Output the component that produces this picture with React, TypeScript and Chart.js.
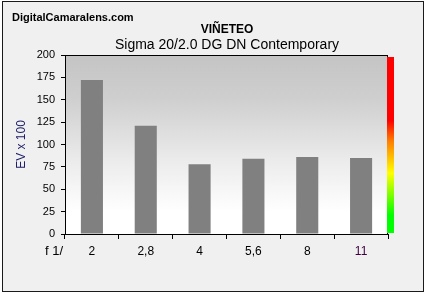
import React, { useEffect, useRef } from "react";
import { Chart, registerables } from "chart.js";

Chart.register(...registerables);

const categories = ["2", "2,8", "4", "5,6", "8", "11"];
const vignetting = [172, 121, 78, 84, 86, 85];
const yTicks = [0, 25, 50, 75, 100, 125, 150, 175, 200];
const siteText = "DigitalCamaralens.com";
const titleText = "VIÑETEO";
const subtitleText = "Sigma 20/2.0 DG DN Contemporary";
const xAxisPrefix = "f 1/";
const yAxisTitle = "EV x 100";

const FONT = "'Liberation Sans', Arial, sans-serif";

export default function App() {
  const ref = useRef<HTMLCanvasElement | null>(null);

  useEffect(() => {
    document.body.style.margin = "0";
    const canvas = ref.current;
    if (!canvas) return;

    const decor = {
      id: "decor",
      beforeDraw(chart: any) {
        const { ctx, chartArea: a } = chart;
        ctx.save();
        ctx.fillStyle = "#ffffff";
        ctx.fillRect(0, 0, chart.width, chart.height);
        ctx.fillStyle = "#f0f0f0";
        ctx.fillRect(2, 2, 421, 289);
        ctx.strokeStyle = "#1a1a1a";
        ctx.lineWidth = 1;
        ctx.strokeRect(2.5, 1.5, 421, 290);
        const g = ctx.createLinearGradient(0, a.top, 0, a.bottom);
        g.addColorStop(0, "#c4c4c4");
        g.addColorStop(0.25, "#cfcfcf");
        g.addColorStop(0.6, "#ececec");
        g.addColorStop(0.88, "#ffffff");
        g.addColorStop(1, "#ffffff");
        ctx.fillStyle = g;
        ctx.fillRect(a.left, a.top, a.right - a.left, a.bottom - a.top);
        ctx.restore();
      },
      afterDraw(chart: any) {
        const { ctx, chartArea: a } = chart;
        ctx.save();
        ctx.strokeStyle = "#000000";
        ctx.lineWidth = 1;
        ctx.beginPath();
        ctx.moveTo(a.left, a.top + 0.5);
        ctx.lineTo(a.right, a.top + 0.5);
        ctx.moveTo(a.right - 0.5, a.top);
        ctx.lineTo(a.right - 0.5, a.bottom);
        ctx.stroke();
        // colour scale bar
        const top = a.top + 2;
        const bottom = a.bottom - 1;
        const cg = ctx.createLinearGradient(0, top, 0, bottom);
        cg.addColorStop(0, "#ff0000");
        cg.addColorStop(0.36, "#ff0000");
        cg.addColorStop(0.48, "#ff8000");
        cg.addColorStop(0.66, "#ffff00");
        cg.addColorStop(0.9, "#00ff00");
        cg.addColorStop(1, "#00ff00");
        ctx.fillStyle = cg;
        ctx.fillRect(a.right - 1, top, 7, bottom - top);
        // texts
        ctx.fillStyle = "#000000";
        ctx.textBaseline = "alphabetic";
        ctx.textAlign = "left";
        ctx.font = `bold 11px ${FONT}`;
        ctx.fillText(siteText, 12, 21);
        ctx.textAlign = "center";
        ctx.font = `bold 12px ${FONT}`;
        ctx.fillText(titleText, 227, 33);
        ctx.font = `14px ${FONT}`;
        ctx.fillText(subtitleText, 227, 49);
        ctx.textAlign = "left";
        ctx.font = `13px ${FONT}`;
        ctx.fillText(xAxisPrefix, 45, 255);
        ctx.restore();
      },
    };

    const chart = new Chart(canvas, {
      type: "bar",
      data: {
        labels: categories,
        datasets: [
          {
            data: vignetting,
            backgroundColor: "#808080",
            borderWidth: 0,
            categoryPercentage: 1,
            barPercentage: 0.41,
          },
        ],
      },
      options: {
        animation: false,
        responsive: false,
        devicePixelRatio: 1,
        layout: { padding: { left: 8, top: 55, right: 38, bottom: 20 } },
        plugins: {
          legend: { display: false },
          tooltip: { enabled: false },
          title: { display: false },
        },
        scales: {
          x: {
            grid: {
              display: true,
              offset: true,
              drawOnChartArea: false,
              drawTicks: true,
              tickLength: 5,
              color: "#000000",
            },
            border: { display: true, color: "#000000", width: 1 },
            ticks: {
              font: { family: FONT, size: 12 },
              padding: 5,
              color: (c: any) => (c.index === 5 ? "#400040" : "#000000"),
              maxRotation: 0,
            },
            afterFit: (s: any) => {
              s.height = 39;
            },
          },
          y: {
            min: 0,
            max: 200,
            afterBuildTicks: (s: any) => {
              s.ticks = yTicks.map((v) => ({ value: v }));
            },
            grid: {
              display: true,
              drawOnChartArea: false,
              drawTicks: true,
              tickLength: 4,
              color: "#000000",
            },
            border: { display: true, color: "#000000", width: 1 },
            ticks: {
              font: { family: FONT, size: 11 },
              padding: 6,
              color: "#000000",
            },
            title: {
              display: true,
              text: yAxisTitle,
              color: "#1a1a66",
              font: { family: FONT, size: 12 },
              padding: { top: 6, bottom: 0 },
            },
            afterFit: (s: any) => {
              s.width = 57;
            },
          },
        },
      },
      plugins: [decor],
    });

    return () => chart.destroy();
  }, []);

  return (
    <div style={{ position: "absolute", left: 0, top: 0 }}>
      <canvas ref={ref} width={426} height={293} style={{ display: "block" }} />
    </div>
  );
}
